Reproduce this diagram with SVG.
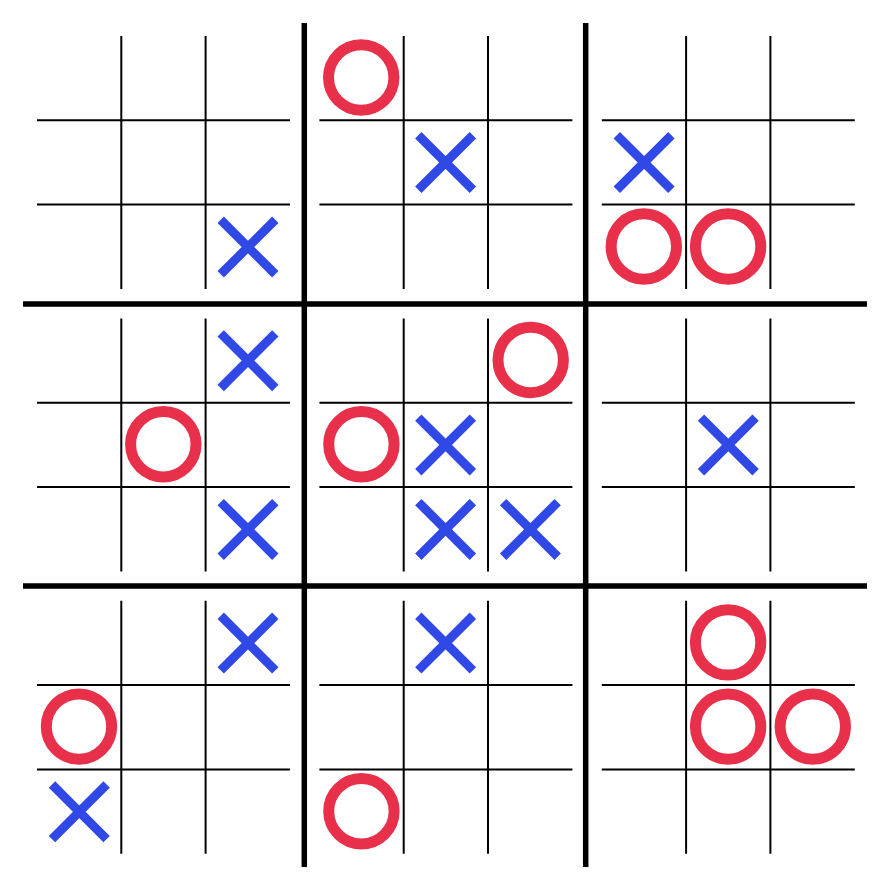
<svg xmlns="http://www.w3.org/2000/svg" xmlns:xlink="http://www.w3.org/1999/xlink" width="892" height="889" viewBox="0 0 892 889">
  <style>
    .thin { stroke: #000; stroke-width: 2; fill: none; }
    .thick { stroke: #000; stroke-width: 5.5; fill: none; }
    .x { stroke: #3049E6; stroke-width: 9; fill: none; stroke-linecap: butt; }
    .o { stroke: #E8304A; stroke-width: 11; fill: none; }
  </style>
  <defs>
    <g id="grid">
      <path class="thin" d="M84.3,0 V253 M168.6,0 V253 M0,84.3 H253 M0,168.6 H253"/>
    </g>
    <path id="X" class="x" d="M-27.3,-27.3 L27.3,27.3 M27.3,-27.3 L-27.3,27.3"/>
    <circle id="O" class="o" r="32.7"/>
  </defs>
  <rect width="892" height="889" fill="#fff"/>

  <g id="connectors">
    <path class="thick" d="M304.3,23 V867 M585.7,23 V867 M23,304 H867 M23,586 H867"/>
  </g>

  <g id="board-0-0" transform="translate(37,36)">
    <use xlink:href="#grid"/>
    <use xlink:href="#X" x="211" y="211"/>
  </g>
  <g id="board-0-1" transform="translate(319.4,36)">
    <use xlink:href="#grid"/>
    <use xlink:href="#O" x="41.8" y="41.5"/>
    <use xlink:href="#X" x="126.2" y="126.5"/>
  </g>
  <g id="board-0-2" transform="translate(601.8,36)">
    <use xlink:href="#grid"/>
    <use xlink:href="#X" x="42.3" y="126.5"/>
    <use xlink:href="#O" x="42" y="210.5"/>
    <use xlink:href="#O" x="126.3" y="210.5"/>
  </g>
  <g id="board-1-0" transform="translate(37,318.4)">
    <use xlink:href="#grid"/>
    <use xlink:href="#X" x="211" y="42.3"/>
    <use xlink:href="#O" x="126.3" y="125.8"/>
    <use xlink:href="#X" x="211" y="211"/>
  </g>
  <g id="board-1-1" transform="translate(319.4,318.4)">
    <use xlink:href="#grid"/>
    <use xlink:href="#O" x="211.3" y="41.6"/>
    <use xlink:href="#O" x="42" y="125.8"/>
    <use xlink:href="#X" x="126.2" y="126.5"/>
    <use xlink:href="#X" x="126.2" y="211"/>
    <use xlink:href="#X" x="211" y="211"/>
  </g>
  <g id="board-1-2" transform="translate(601.8,318.4)">
    <use xlink:href="#grid"/>
    <use xlink:href="#X" x="126.5" y="126.5"/>
  </g>
  <g id="board-2-0" transform="translate(37,600.8)">
    <use xlink:href="#grid"/>
    <use xlink:href="#X" x="211" y="42.3"/>
    <use xlink:href="#O" x="42" y="125.8"/>
    <use xlink:href="#X" x="42.3" y="211"/>
  </g>
  <g id="board-2-1" transform="translate(319.4,600.8)">
    <use xlink:href="#grid"/>
    <use xlink:href="#X" x="126.2" y="42.3"/>
    <use xlink:href="#O" x="42" y="210.5"/>
  </g>
  <g id="board-2-2" transform="translate(601.8,600.8)">
    <use xlink:href="#grid"/>
    <use xlink:href="#O" x="126.3" y="41.6"/>
    <use xlink:href="#O" x="126.3" y="125.8"/>
    <use xlink:href="#O" x="211" y="125.8"/>
  </g>
</svg>
